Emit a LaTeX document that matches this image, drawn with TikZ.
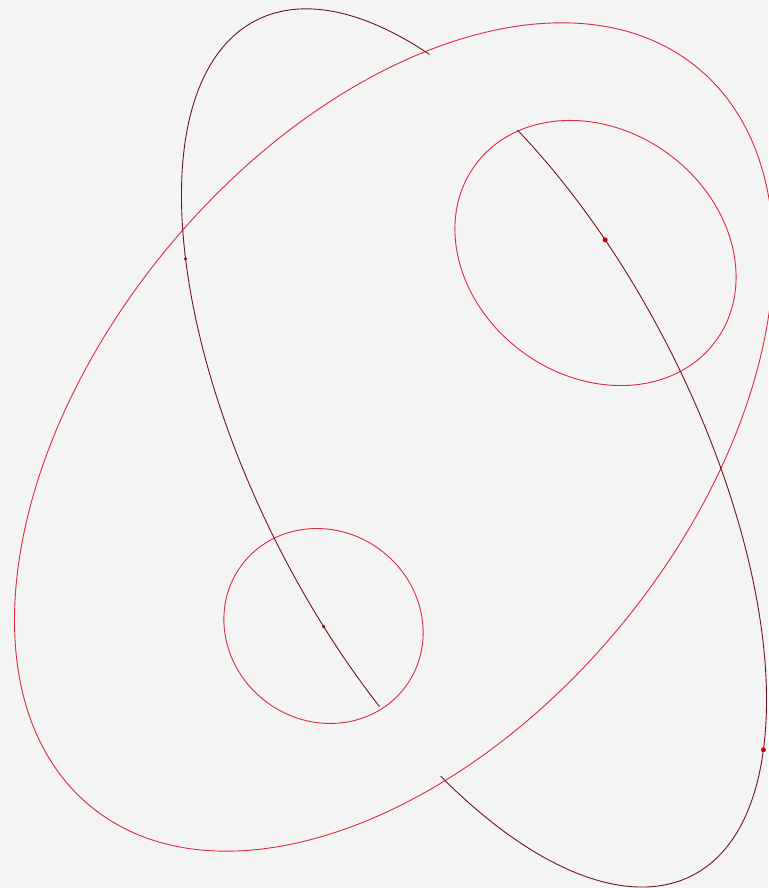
\documentclass[tikz,border=0pt]{standalone}
\usepackage{xcolor}
\usetikzlibrary{positioning}
\definecolor{bggray}{RGB}{244,244,244}
\definecolor{conicred}{RGB}{216,44,64}
\definecolor{conicdark}{RGB}{112,22,34}
\definecolor{dotred}{RGB}{204,0,12}
\definecolor{dotdark}{RGB}{150,10,20}

\begin{document}
\begin{tikzpicture}[x=1pt, y=1pt,
  conic/.style={draw=conicred, line width=0.9pt},
  track/.style={draw=conicdark, line width=0.9pt},
  bigdot/.style={circle, fill=dotred, inner sep=0pt, minimum size=5pt},
  smalldot/.style={circle, fill=dotdark, inner sep=0pt, minimum size=3.5pt}
]
  \fill[bggray] (0,0) rectangle (768,888);
  \useasboundingbox (0,0) rectangle (768,888);
  % red conics
  \draw[conic, rotate around={50.6:(394,451)}] (394,451) ellipse [x radius=478, y radius=295];
  \draw[conic, rotate around={-36:(595.5,635)}] (595.5,635) ellipse [x radius=149, y radius=123];
  \draw[conic, rotate around={-36:(323.5,262)}] (323.5,262) ellipse [x radius=102, y radius=95];
  % dark curve with its points
  \begin{scope}[shift={(474,440)}, rotate=-63]
    \draw[track] (-54.7:480 and 219) arc[start angle=-54.7, end angle=123.3, x radius=480, y radius=219];
    \draw[track] (140.6:480 and 219) arc[start angle=140.6, end angle=293, x radius=480, y radius=219];
    \node[bigdot] (focusA) at (105.2:480 and 219) {};
    \node[bigdot] (rimB) at (33.5:480 and 219) {};
    \node[smalldot] (focusC) at (-79.1:480 and 219) {};
    \node[smalldot] (rimD) at (231.4:480 and 219) {};
  \end{scope}
\end{tikzpicture}
\end{document}
